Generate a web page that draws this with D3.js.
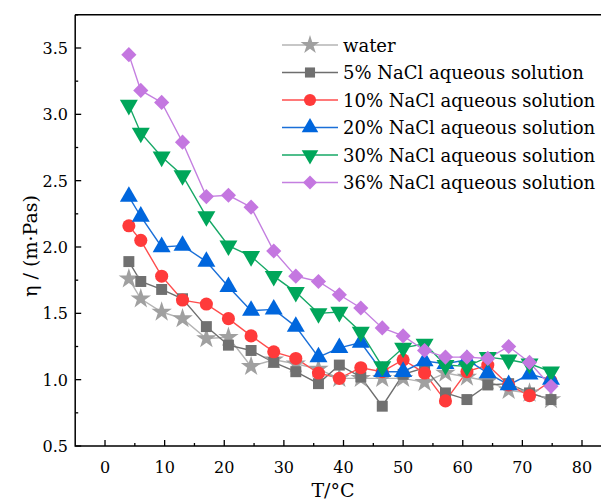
<!DOCTYPE html>
<html lang="en">
<head>
  <meta charset="UTF-8" />
  <title>Viscosity vs temperature</title>
  <script src="https://d3js.org/d3.v7.min.js"></script>
  <style>
    body { margin: 0; background: #fff; }
  </style>
</head>
<body>
  <svg></svg>
<script>
  // temperatures (shared by all series)
  const temps = [4, 6, 9.5, 13, 17, 20.7, 24.5, 28.3, 32, 35.8, 39.3, 42.9, 46.5, 50, 53.6, 57.1, 60.7, 64.2, 67.7, 71.2, 74.8];

  const water  = [1.76, 1.61, 1.51, 1.46, 1.31, 1.32, 1.10, 1.15, 1.12, 1.08, 1.01, 1.01, 1.01, 1.01, 0.98, 1.05, 1.02, 0.99, 0.92, 0.90, 0.85];
  const nacl5  = [1.89, 1.74, 1.68, 1.61, 1.40, 1.26, 1.22, 1.13, 1.06, 0.97, 1.11, 1.02, 0.80, 1.04, 1.09, 0.90, 0.85, 0.96, 0.97, 0.90, 0.85];
  const nacl10 = [2.16, 2.05, 1.78, 1.60, 1.57, 1.46, 1.33, 1.21, 1.16, 1.05, 1.01, 1.09, 1.06, 1.15, 1.05, 0.84, 1.06, 1.11, 0.96, 0.88, 0.99];
  const nacl20 = [2.38, 2.23, 2.00, 2.01, 1.89, 1.70, 1.52, 1.53, 1.40, 1.17, 1.24, 1.28, 1.06, 1.06, 1.14, 1.12, 1.15, 1.05, 0.96, 1.04, 1.00];
  const nacl30 = [3.07, 2.86, 2.68, 2.54, 2.23, 2.01, 1.93, 1.78, 1.66, 1.50, 1.51, 1.36, 1.10, 1.24, 1.27, 1.11, 1.10, 1.17, 1.15, 1.12, 1.06];
  const nacl36 = [3.45, 3.18, 3.09, 2.79, 2.38, 2.39, 2.30, 1.97, 1.78, 1.74, 1.64, 1.54, 1.39, 1.33, 1.22, 1.17, 1.17, 1.16, 1.25, 1.13, 0.95];

  const names = ['water', '5% NaCl aqueous solution', '10% NaCl aqueous solution',
    '20% NaCl aqueous solution', '30% NaCl aqueous solution', '36% NaCl aqueous solution'];

  const xTicks = [0, 10, 20, 30, 40, 50, 60, 70, 80];
  const yTicks = [0.5, 1.0, 1.5, 2.0, 2.5, 3.0, 3.5];

  const series = [
    { name: names[0], values: water,  line: '#b4b4b4', fill: '#a0a0a0', sym: d3.symbolStar,     size: 130, rot: 0 },
    { name: names[1], values: nacl5,  line: '#6e6e6e', fill: '#707070', sym: d3.symbolSquare,   size: 120, rot: 0 },
    { name: names[2], values: nacl10, line: '#ff4d4d', fill: '#ff3a3a', sym: d3.symbolCircle,   size: 135, rot: 0 },
    { name: names[3], values: nacl20, line: '#1a6fd8', fill: '#0066dd', sym: d3.symbolTriangle, size: 140, rot: 0 },
    { name: names[4], values: nacl30, line: '#16a866', fill: '#00a65a', sym: d3.symbolTriangle, size: 140, rot: 180 },
    { name: names[5], values: nacl36, line: '#c47fe0', fill: '#c477e0', sym: d3.symbolSquare,   size: 115, rot: 45 }
  ];

  const width = 601, height = 501;
  const svg = d3.select('svg').attr('width', width).attr('height', height)
    .style('font-family', 'DejaVu Serif, serif');

  const x = d3.scaleLinear().domain([-5, 80]).range([75.2, 582]);
  const y = d3.scaleLinear().domain([0.5, 3.5]).range([446, 48]);
  const yTop = y(3.75);

  // series lines + markers
  series.forEach(s => {
    const pts = temps.map((t, i) => [t, s.values[i]]);
    svg.append('path')
      .datum(pts)
      .attr('fill', 'none')
      .attr('stroke', s.line)
      .attr('stroke-width', 1.4)
      .attr('d', d3.line().x(d => x(d[0])).y(d => y(d[1])));
  });
  series.forEach(s => {
    const sym = d3.symbol().type(s.sym).size(s.size);
    svg.append('g').selectAll('path')
      .data(temps.map((t, i) => [t, s.values[i]]))
      .join('path')
      .attr('d', sym)
      .attr('fill', s.fill)
      .attr('transform', d => `translate(${x(d[0])},${y(d[1])}) rotate(${s.rot})`);
  });

  // frame
  svg.append('path')
    .attr('d', `M${x(-5)},${yTop}H${width}M${x(-5)},${yTop}V${y(0.5)}H${width}`)
    .attr('fill', 'none').attr('stroke', '#000').attr('stroke-width', 1.5);

  // x ticks
  const gx = svg.append('g');
  d3.range(0, 86, 5).forEach(v => {
    const major = v % 10 === 0;
    gx.append('line').attr('x1', x(v)).attr('x2', x(v))
      .attr('y1', y(0.5)).attr('y2', y(0.5) - (major ? 6 : 3))
      .attr('stroke', '#000').attr('stroke-width', 1.3);
  });
  gx.selectAll('text').data(xTicks).join('text')
    .attr('x', d => x(d)).attr('y', 473)
    .attr('text-anchor', 'middle').attr('font-size', 16).text(d => d);

  // y ticks
  const gy = svg.append('g');
  d3.range(0.5, 3.76, 0.25).forEach(v => {
    const major = Math.abs(v * 2 - Math.round(v * 2)) < 1e-6;
    gy.append('line').attr('x1', x(-5)).attr('x2', x(-5) + (major ? 6 : 3))
      .attr('y1', y(v)).attr('y2', y(v))
      .attr('stroke', '#000').attr('stroke-width', 1.3);
  });
  gy.selectAll('text').data(yTicks).join('text')
    .attr('x', 68).attr('y', d => y(d) + 6)
    .attr('text-anchor', 'end').attr('font-size', 16).text(d => d.toFixed(1));

  // axis titles
  svg.append('text').attr('x', 333).attr('y', 497).attr('text-anchor', 'middle')
    .attr('font-size', 19).text('T/°C');
  svg.append('text').attr('transform', 'translate(37,246) rotate(-90)')
    .attr('text-anchor', 'middle').attr('font-size', 19).text('η / (m·Pas)');

  // legend
  const leg = svg.append('g');
  series.forEach((s, i) => {
    const ly = 45 + i * 27.5;
    leg.append('line').attr('x1', 282).attr('x2', 338).attr('y1', ly).attr('y2', ly)
      .attr('stroke', s.line).attr('stroke-width', 1.4);
    leg.append('path').attr('d', d3.symbol().type(s.sym).size(s.size * 0.85))
      .attr('fill', s.fill)
      .attr('transform', `translate(310,${ly}) rotate(${s.rot})`);
    leg.append('text').attr('x', 343).attr('y', ly + 6.5)
      .attr('font-size', 18).text(s.name);
  });
</script>
</body>
</html>
